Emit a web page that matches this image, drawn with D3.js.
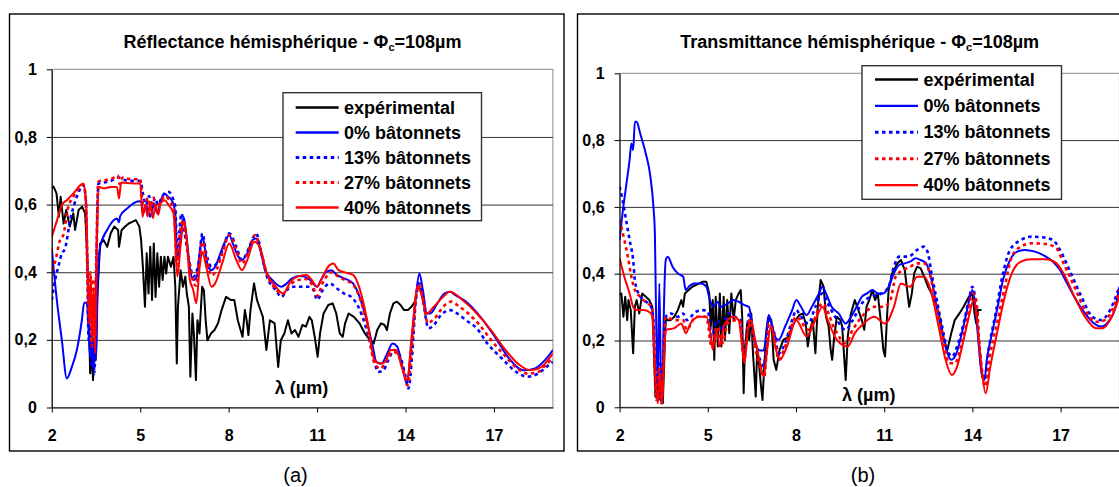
<!DOCTYPE html>
<html>
<head>
<meta charset="utf-8">
<script src="https://cdn.jsdelivr.net/npm/d3@7"></script>
<style>
  body { margin: 0; background: #fff; }
  svg { display: block; font-family: Arial, "Liberation Sans", sans-serif; }
  .axis .tick text { font-size: 16px; font-weight: bold; fill: #000; }
  .axis .domain { stroke: #000; }
  .axis .tick line { stroke: #000; }
</style>
</head>
<body>
<svg id="chart" width="1119" height="487"></svg>
<script>
// ---- shared labels / ticks ----
const xTicks = [2, 5, 8, 11, 14, 17];
const yTicks = [0, 0.2, 0.4, 0.6, 0.8, 1];
const gridValues = [0.2, 0.4, 0.6, 0.8];
const legendLabels = ['expérimental', '0% bâtonnets', '13% bâtonnets', '27% bâtonnets', '40% bâtonnets'];

// ---- (a) reflectance, [lambda (µm), value] ----
const refExp = [[2.0,0.65],[2.06,0.653],[2.16,0.633],[2.24,0.564],[2.30,0.623],[2.40,0.544],[2.49,0.584],[2.61,0.535],[2.73,0.574],[2.79,0.525],[2.91,0.584],[3.03,0.594],[3.13,0.574],[3.18,0.495],[3.25,0.318],[3.30,0.101],[3.35,0.16],[3.40,0.081],[3.44,0.199],[3.49,0.14],[3.54,0.318],[3.64,0.485],[3.76,0.495],[3.88,0.475],[4.00,0.515],[4.12,0.535],[4.25,0.525],[4.28,0.475],[4.37,0.525],[4.49,0.535],[4.61,0.544],[4.73,0.549],[4.85,0.554],[4.97,0.535],[5.03,0.495],[5.09,0.416],[5.16,0.298],[5.22,0.456],[5.28,0.337],[5.34,0.475],[5.40,0.318],[5.46,0.485],[5.52,0.327],[5.58,0.456],[5.64,0.357],[5.70,0.446],[5.76,0.377],[5.82,0.446],[5.88,0.396],[5.94,0.446],[6.04,0.416],[6.13,0.446],[6.19,0.357],[6.24,0.13],[6.28,0.298],[6.37,0.406],[6.45,0.357],[6.53,0.387],[6.58,0.337],[6.65,0.298],[6.70,0.091],[6.77,0.278],[6.82,0.219],[6.89,0.081],[6.94,0.258],[7.01,0.219],[7.10,0.357],[7.16,0.347],[7.22,0.258],[7.28,0.199],[7.40,0.219],[7.52,0.229],[7.64,0.249],[7.76,0.288],[7.91,0.327],[8.07,0.318],[8.19,0.318],[8.31,0.258],[8.47,0.209],[8.55,0.288],[8.61,0.258],[8.67,0.214],[8.74,0.288],[8.86,0.367],[8.96,0.318],[9.04,0.298],[9.16,0.268],[9.28,0.17],[9.40,0.258],[9.56,0.249],[9.68,0.12],[9.77,0.199],[9.89,0.219],[10.01,0.258],[10.13,0.219],[10.25,0.229],[10.37,0.209],[10.50,0.244],[10.62,0.239],[10.74,0.268],[10.82,0.258],[10.92,0.209],[11.02,0.15],[11.10,0.219],[11.22,0.278],[11.38,0.303],[11.53,0.308],[11.65,0.278],[11.77,0.219],[11.87,0.209],[11.95,0.249],[12.07,0.278],[12.25,0.268],[12.44,0.249],[12.62,0.219],[12.80,0.199],[12.92,0.189],[13.04,0.229],[13.17,0.249],[13.29,0.244],[13.37,0.229],[13.47,0.278],[13.59,0.308],[13.71,0.313],[13.83,0.303],[13.95,0.288],[14.08,0.288],[14.20,0.298],[14.32,0.313]];
const ref0 = [[2.0,0.47],[2.17,0.318],[2.34,0.2],[2.51,0.086],[2.68,0.12],[2.85,0.17],[3.02,0.258],[3.10,0.31],[3.19,0.31],[3.24,0.24],[3.30,0.15],[3.36,0.2],[3.39,0.12],[3.45,0.19],[3.51,0.15],[3.55,0.35],[3.64,0.475],[3.87,0.524],[4.21,0.559],[4.28,0.548],[4.32,0.566],[4.55,0.588],[4.95,0.61],[5.04,0.608],[5.09,0.574],[5.22,0.594],[5.34,0.564],[5.46,0.604],[5.58,0.574],[5.70,0.613],[5.82,0.633],[5.94,0.623],[6.07,0.613],[6.19,0.574],[6.25,0.436],[6.37,0.495],[6.47,0.564],[6.56,0.515],[6.68,0.416],[6.80,0.377],[6.92,0.387],[7.01,0.456],[7.11,0.505],[7.20,0.466],[7.30,0.416],[7.42,0.406],[7.54,0.416],[7.72,0.456],[7.90,0.495],[8.02,0.51],[8.14,0.485],[8.33,0.446],[8.45,0.436],[8.63,0.456],[8.81,0.495],[8.93,0.50],[9.05,0.475],[9.24,0.406],[9.48,0.377],[9.79,0.357],[9.97,0.367],[10.15,0.382],[10.40,0.389],[10.58,0.387],[10.76,0.377],[11.0,0.357],[11.13,0.377],[11.31,0.401],[11.49,0.406],[11.67,0.392],[11.92,0.382],[12.22,0.367],[12.40,0.337],[12.65,0.268],[12.89,0.18],[13.01,0.135],[13.19,0.13],[13.38,0.16],[13.56,0.189],[13.72,0.18],[13.87,0.13],[14.05,0.071],[14.17,0.16],[14.35,0.327],[14.47,0.396],[14.59,0.347],[14.72,0.278],[14.84,0.278],[15.08,0.308],[15.32,0.337],[15.51,0.342],[15.69,0.332],[16.05,0.313],[16.54,0.268],[17.03,0.209],[17.51,0.145],[18.0,0.11],[18.37,0.115],[18.73,0.14],[19.0,0.17]];
const ref13 = [[2.0,0.318],[2.11,0.376],[2.22,0.416],[2.34,0.455],[2.45,0.47],[2.62,0.553],[2.85,0.623],[3.07,0.657],[3.15,0.62],[3.20,0.45],[3.25,0.2],[3.30,0.35],[3.35,0.12],[3.40,0.3],[3.44,0.1],[3.49,0.25],[3.53,0.5],[3.58,0.662],[3.75,0.665],[4.0,0.67],[4.25,0.68],[4.5,0.672],[4.8,0.67],[5.0,0.67],[5.04,0.66],[5.09,0.633],[5.2,0.60],[5.3,0.625],[5.4,0.59],[5.5,0.62],[5.6,0.60],[5.75,0.625],[5.95,0.638],[6.19,0.594],[6.25,0.456],[6.4,0.574],[6.5,0.52],[6.68,0.426],[6.80,0.387],[6.98,0.426],[7.11,0.515],[7.24,0.456],[7.42,0.416],[7.6,0.426],[7.79,0.465],[8.02,0.515],[8.26,0.475],[8.45,0.436],[8.75,0.485],[8.93,0.515],[9.11,0.456],[9.3,0.387],[9.6,0.347],[9.79,0.327],[9.97,0.347],[10.21,0.357],[10.45,0.357],[10.7,0.357],[10.88,0.347],[11.0,0.318],[11.19,0.347],[11.43,0.367],[11.67,0.352],[11.92,0.337],[12.16,0.327],[12.40,0.298],[12.65,0.239],[12.89,0.16],[13.07,0.105],[13.25,0.11],[13.44,0.145],[13.62,0.17],[13.80,0.155],[13.98,0.10],[14.1,0.056],[14.22,0.15],[14.35,0.317],[14.47,0.367],[14.59,0.317],[14.78,0.234],[14.96,0.244],[15.2,0.273],[15.51,0.288],[15.75,0.278],[16.05,0.258],[16.42,0.234],[16.78,0.189],[17.27,0.145],[17.76,0.105],[18.12,0.091],[18.49,0.10],[18.85,0.125],[19.0,0.135]];
const ref27 = [[2.0,0.406],[2.11,0.43],[2.28,0.495],[2.39,0.51],[2.56,0.593],[2.73,0.623],[2.96,0.652],[3.07,0.66],[3.15,0.62],[3.20,0.42],[3.26,0.25],[3.31,0.40],[3.36,0.18],[3.41,0.38],[3.46,0.2],[3.51,0.45],[3.58,0.668],[3.8,0.672],[4.0,0.675],[4.25,0.685],[4.3,0.66],[4.4,0.68],[4.7,0.675],[5.0,0.675],[5.06,0.62],[5.15,0.58],[5.25,0.62],[5.35,0.585],[5.45,0.62],[5.55,0.59],[5.7,0.61],[5.85,0.625],[6.0,0.61],[6.15,0.58],[6.24,0.42],[6.35,0.52],[6.47,0.555],[6.6,0.47],[6.75,0.39],[6.88,0.36],[7.0,0.43],[7.11,0.49],[7.25,0.44],[7.42,0.39],[7.6,0.41],[7.8,0.46],[8.02,0.51],[8.25,0.47],[8.45,0.425],[8.7,0.47],[8.9,0.51],[9.1,0.46],[9.3,0.395],[9.6,0.35],[9.82,0.335],[10.05,0.36],[10.3,0.375],[10.6,0.38],[10.85,0.36],[11.0,0.33],[11.2,0.37],[11.5,0.40],[11.75,0.385],[12.0,0.375],[12.25,0.36],[12.5,0.31],[12.7,0.24],[12.95,0.13],[13.15,0.115],[13.35,0.14],[13.58,0.165],[13.78,0.15],[13.95,0.10],[14.07,0.065],[14.2,0.16],[14.35,0.32],[14.45,0.365],[14.6,0.32],[14.75,0.25],[15.0,0.265],[15.3,0.30],[15.55,0.313],[15.8,0.30],[16.1,0.28],[16.5,0.245],[16.9,0.2],[17.35,0.155],[17.8,0.115],[18.15,0.10],[18.5,0.105],[18.8,0.13],[19.0,0.145]];
const ref40 = [[2.0,0.505],[2.2,0.56],[2.35,0.6],[2.51,0.613],[2.73,0.633],[3.07,0.662],[3.17,0.593],[3.22,0.4],[3.28,0.25],[3.33,0.38],[3.37,0.2],[3.42,0.35],[3.47,0.16],[3.53,0.495],[3.62,0.652],[3.75,0.648],[4.0,0.652],[4.21,0.652],[4.28,0.618],[4.35,0.665],[4.7,0.663],[5.0,0.662],[5.08,0.564],[5.17,0.60],[5.25,0.565],[5.34,0.605],[5.43,0.56],[5.52,0.60],[5.61,0.57],[5.7,0.605],[5.83,0.613],[5.95,0.60],[6.13,0.574],[6.26,0.387],[6.37,0.48],[6.47,0.549],[6.57,0.5],[6.68,0.38],[6.80,0.347],[6.90,0.308],[7.01,0.41],[7.11,0.46],[7.23,0.42],[7.42,0.357],[7.54,0.367],[7.78,0.426],[8.02,0.485],[8.26,0.436],[8.45,0.406],[8.63,0.436],[8.87,0.49],[9.05,0.475],[9.30,0.396],[9.6,0.357],[9.85,0.337],[10.1,0.372],[10.33,0.387],[10.64,0.392],[10.82,0.377],[11.0,0.357],[11.19,0.387],[11.37,0.416],[11.55,0.426],[11.73,0.406],[12.0,0.398],[12.22,0.392],[12.46,0.347],[12.70,0.258],[12.95,0.14],[13.13,0.13],[13.31,0.135],[13.5,0.17],[13.68,0.17],[13.87,0.12],[14.05,0.081],[14.22,0.22],[14.41,0.357],[14.53,0.337],[14.72,0.278],[14.96,0.298],[15.27,0.327],[15.51,0.342],[15.93,0.318],[16.42,0.278],[16.9,0.229],[17.39,0.17],[17.88,0.125],[18.25,0.11],[18.61,0.12],[19.0,0.16]];

// ---- (b) transmittance, [lambda (µm), value] ----
const trExp = [[2.0,0.336],[2.06,0.341],[2.13,0.271],[2.19,0.331],[2.26,0.261],[2.30,0.321],[2.38,0.291],[2.46,0.162],[2.52,0.301],[2.58,0.321],[2.67,0.281],[2.77,0.341],[2.89,0.331],[3.01,0.321],[3.11,0.301],[3.15,0.222],[3.22,0.032],[3.28,0.10],[3.32,0.022],[3.40,0.082],[3.47,0.012],[3.52,0.142],[3.57,0.271],[3.62,0.261],[3.74,0.261],[3.86,0.271],[3.98,0.291],[4.10,0.321],[4.16,0.301],[4.22,0.341],[4.35,0.351],[4.47,0.361],[4.59,0.366],[4.71,0.371],[4.83,0.376],[4.95,0.376],[5.05,0.341],[5.10,0.242],[5.17,0.321],[5.22,0.142],[5.27,0.331],[5.34,0.182],[5.41,0.341],[5.46,0.182],[5.54,0.331],[5.58,0.202],[5.66,0.321],[5.73,0.222],[5.80,0.341],[5.88,0.261],[5.95,0.321],[6.05,0.341],[6.12,0.351],[6.17,0.271],[6.22,0.042],[6.26,0.172],[6.34,0.251],[6.41,0.202],[6.48,0.281],[6.53,0.172],[6.63,0.032],[6.68,0.172],[6.75,0.122],[6.80,0.072],[6.86,0.022],[6.92,0.122],[6.99,0.222],[7.08,0.271],[7.16,0.261],[7.24,0.142],[7.33,0.112],[7.44,0.172],[7.57,0.202],[7.75,0.212],[7.87,0.242],[7.99,0.261],[8.11,0.276],[8.23,0.281],[8.33,0.251],[8.40,0.182],[8.48,0.232],[8.57,0.261],[8.66,0.162],[8.74,0.301],[8.84,0.381],[8.94,0.361],[9.02,0.271],[9.11,0.242],[9.18,0.172],[9.23,0.142],[9.30,0.212],[9.39,0.271],[9.51,0.261],[9.57,0.242],[9.69,0.082],[9.76,0.212],[9.87,0.281],[10.0,0.321],[10.12,0.291],[10.24,0.261],[10.32,0.232],[10.40,0.301],[10.49,0.321],[10.60,0.351],[10.69,0.321],[10.78,0.341],[10.88,0.261],[10.97,0.172],[11.03,0.152],[11.09,0.261],[11.15,0.351],[11.27,0.401],[11.45,0.431],[11.57,0.441],[11.70,0.411],[11.78,0.351],[11.85,0.301],[11.94,0.341],[12.02,0.401],[12.12,0.421],[12.24,0.416],[12.36,0.391],[12.49,0.361],[12.61,0.341],[12.79,0.301],[12.91,0.261],[13.03,0.202],[13.15,0.172],[13.28,0.222],[13.40,0.261],[13.56,0.281],[13.70,0.301],[13.88,0.331],[14.0,0.341],[14.07,0.281],[14.13,0.251],[14.19,0.291],[14.31,0.291]];
const tr0 = [[2.0,0.501],[2.10,0.581],[2.22,0.661],[2.34,0.741],[2.40,0.790],[2.46,0.770],[2.52,0.855],[2.58,0.855],[2.70,0.820],[2.89,0.760],[3.03,0.701],[3.15,0.601],[3.20,0.521],[3.25,0.222],[3.30,0.072],[3.35,0.371],[3.40,0.122],[3.45,0.012],[3.49,0.222],[3.57,0.441],[3.64,0.451],[3.80,0.421],[3.98,0.401],[4.16,0.391],[4.25,0.351],[4.35,0.361],[4.53,0.371],[4.77,0.371],[4.95,0.361],[5.07,0.321],[5.20,0.301],[5.32,0.316],[5.44,0.301],[5.68,0.311],[5.86,0.321],[6.05,0.316],[6.25,0.306],[6.40,0.30],[6.52,0.24],[6.62,0.19],[6.78,0.17],[6.90,0.17],[7.07,0.276],[7.20,0.24],[7.30,0.21],[7.41,0.202],[7.63,0.242],[7.87,0.291],[8.01,0.321],[8.17,0.301],[8.36,0.276],[8.54,0.301],[8.78,0.341],[8.90,0.361],[9.02,0.341],[9.21,0.301],[9.45,0.281],[9.69,0.251],[9.87,0.271],[10.06,0.301],[10.24,0.331],[10.42,0.341],[10.60,0.351],[10.78,0.341],[10.97,0.341],[11.15,0.361],[11.33,0.401],[11.51,0.426],[11.70,0.431],[11.88,0.436],[12.06,0.446],[12.24,0.441],[12.43,0.431],[12.61,0.381],[12.79,0.301],[12.97,0.222],[13.15,0.162],[13.28,0.142],[13.46,0.162],[13.64,0.222],[13.82,0.291],[14.0,0.351],[14.09,0.311],[14.19,0.212],[14.31,0.102],[14.41,0.082],[14.49,0.142],[14.67,0.222],[14.86,0.301],[15.04,0.381],[15.28,0.441],[15.52,0.466],[15.77,0.471],[16.13,0.466],[16.50,0.451],[16.74,0.436],[16.98,0.411],[17.22,0.371],[17.53,0.321],[17.83,0.281],[18.14,0.251],[18.38,0.242],[18.62,0.256],[18.87,0.301],[19.0,0.361]];
const tr13 = [[2.0,0.661],[2.10,0.621],[2.22,0.561],[2.34,0.501],[2.46,0.441],[2.52,0.381],[2.64,0.341],[2.83,0.321],[3.07,0.301],[3.15,0.261],[3.23,0.082],[3.32,0.142],[3.40,0.022],[3.47,0.122],[3.57,0.271],[3.74,0.281],[3.98,0.271],[4.16,0.281],[4.28,0.261],[4.59,0.286],[4.83,0.291],[5.01,0.286],[5.13,0.212],[5.32,0.261],[5.50,0.232],[5.68,0.281],[5.92,0.271],[6.11,0.261],[6.23,0.142],[6.41,0.281],[6.59,0.192],[6.78,0.142],[6.90,0.122],[7.08,0.261],[7.26,0.222],[7.41,0.162],[7.63,0.192],[7.87,0.261],[8.01,0.291],[8.17,0.271],[8.42,0.251],[8.66,0.301],[8.90,0.341],[9.08,0.311],[9.33,0.271],[9.69,0.232],[9.93,0.261],[10.24,0.311],[10.54,0.331],[10.91,0.341],[11.15,0.361],[11.33,0.421],[11.51,0.451],[11.82,0.451],[12.12,0.471],[12.36,0.481],[12.49,0.461],[12.61,0.401],[12.79,0.321],[12.97,0.242],[13.15,0.172],[13.31,0.152],[13.48,0.182],[13.70,0.251],[13.88,0.321],[14.0,0.361],[14.13,0.301],[14.28,0.142],[14.41,0.082],[14.55,0.172],[14.79,0.281],[15.04,0.401],[15.28,0.471],[15.65,0.501],[16.01,0.511],[16.37,0.509],[16.74,0.501],[16.98,0.471],[17.35,0.401],[17.71,0.331],[18.08,0.271],[18.38,0.261],[18.68,0.291],[19.0,0.361]];
const tr27 = [[2.0,0.561],[2.16,0.501],[2.28,0.451],[2.40,0.391],[2.52,0.351],[2.70,0.331],[2.95,0.311],[3.11,0.301],[3.18,0.142],[3.25,0.022],[3.35,0.122],[3.42,0.012],[3.49,0.142],[3.57,0.271],[3.86,0.261],[4.16,0.261],[4.28,0.232],[4.59,0.271],[4.95,0.271],[5.13,0.182],[5.32,0.242],[5.50,0.192],[5.68,0.251],[5.99,0.261],[6.11,0.256],[6.23,0.142],[6.41,0.261],[6.65,0.162],[6.92,0.092],[7.08,0.251],[7.26,0.212],[7.41,0.142],[7.63,0.182],[8.01,0.271],[8.42,0.232],[8.90,0.311],[9.33,0.232],[9.69,0.192],[9.93,0.232],[10.24,0.271],[10.66,0.301],[10.97,0.301],[11.21,0.321],[11.39,0.391],[11.64,0.411],[11.88,0.421],[12.12,0.431],[12.36,0.431],[12.55,0.401],[12.73,0.321],[12.97,0.222],[13.21,0.132],[13.40,0.132],[13.64,0.192],[13.82,0.261],[14.0,0.341],[14.13,0.321],[14.25,0.172],[14.43,0.062],[14.61,0.162],[14.86,0.261],[15.10,0.361],[15.34,0.451],[15.65,0.481],[16.01,0.491],[16.50,0.489],[16.86,0.476],[17.10,0.431],[17.47,0.361],[17.83,0.291],[18.20,0.256],[18.50,0.261],[18.80,0.301],[19.0,0.351]];
const tr40 = [[2.0,0.446],[2.16,0.391],[2.34,0.341],[2.46,0.301],[2.58,0.291],[2.83,0.291],[3.07,0.281],[3.15,0.242],[3.23,0.072],[3.30,0.012],[3.37,0.102],[3.45,0.012],[3.52,0.172],[3.59,0.232],[3.86,0.237],[4.10,0.251],[4.25,0.222],[4.41,0.251],[4.71,0.271],[4.95,0.271],[5.07,0.232],[5.17,0.172],[5.29,0.232],[5.41,0.182],[5.54,0.242],[5.68,0.261],[5.86,0.271],[6.05,0.261],[6.17,0.182],[6.25,0.132],[6.35,0.222],[6.47,0.261],[6.59,0.212],[6.78,0.132],[6.90,0.092],[7.02,0.172],[7.14,0.242],[7.32,0.172],[7.45,0.142],[7.69,0.182],[8.01,0.261],[8.36,0.212],[8.66,0.261],[8.90,0.301],[9.08,0.261],[9.39,0.202],[9.76,0.182],[10.0,0.222],[10.30,0.251],[10.66,0.271],[11.03,0.251],[11.33,0.301],[11.57,0.371],[11.88,0.361],[12.12,0.391],[12.36,0.391],[12.61,0.341],[12.85,0.242],[13.09,0.142],[13.30,0.097],[13.48,0.122],[13.70,0.202],[13.88,0.271],[14.04,0.321],[14.16,0.261],[14.31,0.122],[14.45,0.042],[14.61,0.122],[14.86,0.232],[15.10,0.331],[15.34,0.401],[15.65,0.436],[16.01,0.443],[16.50,0.443],[16.86,0.431],[17.10,0.401],[17.47,0.331],[17.83,0.271],[18.20,0.237],[18.44,0.237],[18.74,0.271],[19.0,0.331]];

// series look, same order as legendLabels
const seriesStyle = [
  {color: '#000000', dash: null, width: 2, curve: d3.curveLinear},
  {color: '#0000ff', dash: null, width: 2, curve: d3.curveMonotoneX},
  {color: '#0000ff', dash: '3.5,3.5', width: 2.6, curve: d3.curveMonotoneX},
  {color: '#ff0000', dash: '3.5,3.5', width: 2.6, curve: d3.curveMonotoneX},
  {color: '#ff0000', dash: null, width: 2, curve: d3.curveMonotoneX}
];

const panels = [
  {
    id: 'a', title: 'Réflectance hémisphérique - Φ', series: [refExp, ref0, ref13, ref27, ref40],
    frame: {x: 9.5, y: 14, w: 554.5, h: 437},
    plot: {left: 51.8, right: 552.9, top: 69.3, bottom: 407.5},
    titleX: 292.5,
    legend: {x: 283, y: 92.7, w: 198.5, h: 128, first: 107.5, step: 25, lineX: 295.7, textX: 344},
    lambda: {x: 301.5, y: 394}, caption: {x: 295.5, text: '(a)'}
  },
  {
    id: 'b', title: 'Transmittance hémisphérique - Φ', series: [trExp, tr0, tr13, tr27, tr40],
    frame: {x: 577.5, y: 14, w: 554.5, h: 437},
    plot: {left: 619.6, right: 1119.4, top: 73.3, bottom: 407.3},
    titleX: 859.6,
    legend: {x: 862, y: 65.7, w: 199.5, h: 133.6, first: 79.5, step: 26.4, lineX: 875, textX: 923.6},
    lambda: {x: 868.8, y: 401}, caption: {x: 863, text: '(b)'}
  }
];

const svg = d3.select('#chart');
const yFormat = d => (d === 0 || d === 1) ? String(d) : d3.format('.1f')(d).replace('.', ',');

function drawPanel(p) {
  const g = svg.append('g').attr('class', 'panel-' + p.id);
  const x = d3.scaleLinear().domain([2, 19]).range([p.plot.left, p.plot.right]);
  const y = d3.scaleLinear().domain([0, 1]).range([p.plot.bottom, p.plot.top]);
  const w = p.plot.right - p.plot.left;

  // chart-area frame
  g.append('rect')
      .attr('x', p.frame.x).attr('y', p.frame.y)
      .attr('width', p.frame.w).attr('height', p.frame.h)
      .attr('fill', '#fff').attr('stroke', '#000').attr('stroke-width', 1.4);

  // plot-area border (grey top / right)
  g.append('rect')
      .attr('x', p.plot.left).attr('y', y(1))
      .attr('width', w).attr('height', p.plot.bottom - y(1))
      .attr('fill', 'none').attr('stroke', '#8c8c8c').attr('stroke-width', 1);

  // gridlines
  g.append('g')
      .attr('transform', `translate(${p.plot.left},0)`)
      .call(d3.axisLeft(y).tickValues(gridValues).tickSize(-w).tickFormat(''))
      .call(s => s.select('.domain').remove())
      .call(s => s.selectAll('line').attr('stroke', '#333').attr('stroke-width', 1));

  // title with subscript c
  const t = g.append('text')
      .attr('x', p.titleX).attr('y', 48)
      .attr('text-anchor', 'middle')
      .style('font-size', '18px').style('font-weight', 'bold');
  t.append('tspan').text(p.title);
  t.append('tspan').attr('dy', 3).style('font-size', '11px').text('c');
  t.append('tspan').attr('dy', -3).text('=108µm');

  // series
  const clipId = 'clip-' + p.id;
  g.append('clipPath').attr('id', clipId)
    .append('rect')
      .attr('x', p.plot.left).attr('y', p.plot.top - 2)
      .attr('width', w).attr('height', p.plot.bottom - p.plot.top + 4);

  const lines = g.append('g').attr('clip-path', `url(#${clipId})`);
  p.series.forEach((data, i) => {
    const st = seriesStyle[i];
    const line = d3.line().x(d => x(d[0])).y(d => y(d[1])).curve(st.curve);
    lines.append('path')
        .datum(data)
        .attr('fill', 'none')
        .attr('stroke', st.color)
        .attr('stroke-width', st.width)
        .attr('stroke-dasharray', st.dash)
        .attr('stroke-linejoin', 'round')
        .attr('d', line);
  });

  // axes
  g.append('g')
      .attr('class', 'axis y-axis')
      .attr('transform', `translate(${p.plot.left},0)`)
      .call(d3.axisLeft(y).tickValues(yTicks).tickSizeInner(5).tickSizeOuter(0).tickPadding(10).tickFormat(yFormat));

  g.append('g')
      .attr('class', 'axis x-axis')
      .attr('transform', `translate(0,${p.plot.bottom})`)
      .call(d3.axisBottom(x).tickValues(xTicks).tickSizeInner(5).tickSizeOuter(0).tickPadding(17.5).tickFormat(d3.format('d')));

  // x-axis title sits inside the plot
  g.append('text')
      .attr('x', p.lambda.x).attr('y', p.lambda.y)
      .attr('text-anchor', 'middle')
      .style('font-size', '18px').style('font-weight', 'bold')
      .text('λ (µm)');

  // legend
  const L = p.legend;
  const lg = g.append('g').attr('class', 'legend');
  lg.append('rect')
      .attr('x', L.x).attr('y', L.y).attr('width', L.w).attr('height', L.h)
      .attr('fill', '#fff').attr('stroke', '#333').attr('stroke-width', 1.4);
  legendLabels.forEach((lab, i) => {
    const st = seriesStyle[i];
    const ly = L.first + i * L.step;
    lg.append('line')
        .attr('x1', L.lineX).attr('x2', L.lineX + 43)
        .attr('y1', ly).attr('y2', ly)
        .attr('stroke', st.color).attr('stroke-width', st.width + 0.4)
        .attr('stroke-dasharray', st.dash);
    lg.append('text')
        .attr('x', L.textX).attr('y', ly + 6)
        .style('font-size', '18px').style('font-weight', 'bold')
        .text(lab);
  });

  // panel caption
  g.append('text')
      .attr('x', p.caption.x).attr('y', 482)
      .attr('text-anchor', 'middle')
      .style('font-size', '20px')
      .text(p.caption.text);
}

panels.forEach(drawPanel);
</script>
</body>
</html>
